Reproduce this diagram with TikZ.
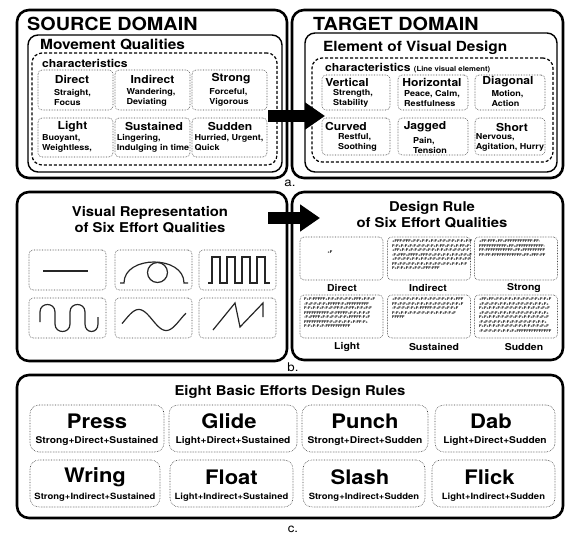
\documentclass[tikz,border=0pt]{standalone}
\usepackage{fontspec}
\setmainfont[FakeStretch=1.1]{TeX Gyre Heros}
\usepackage{tikz}
\usetikzlibrary{arrows.meta,positioning,calc}

\tikzset{
	outerbox/.style={draw, line width=2.6pt, rounded corners=12pt, inner sep=0pt},
	innerbox/.style={draw, line width=1.4pt, rounded corners=10pt, inner sep=0pt},
	charbox/.style={draw, line width=1.2pt, dash pattern=on 3pt off 2pt, rounded corners=10pt, inner sep=0pt},
	qualbox/.style={draw=black!75, line width=0.6pt, densely dotted, rounded corners=4pt, inner sep=0pt},
	effbox/.style={draw=black!75, line width=0.6pt, densely dotted, rounded corners=9pt, inner sep=0pt},
	domtitle/.style={font=\bfseries\fontsize{18}{20}\selectfont, inner sep=0pt, anchor=base west},
	subtitle/.style={font=\bfseries\fontsize{14}{16}\selectfont, inner sep=0pt, anchor=base west},
	chartitle/.style={font=\bfseries\fontsize{11}{13}\selectfont, inner sep=0pt, anchor=base west},
	bigtitle/.style={font=\bfseries\fontsize{13.5}{16}\selectfont, inner sep=0pt, align=center},
	qhead/.style={font=\bfseries\fontsize{11}{12}\selectfont, inner sep=0pt},
	qsub/.style={font=\bfseries\fontsize{8.2}{10}\selectfont, inner sep=0pt, align=left},
	rlabel/.style={font=\bfseries\fontsize{9.5}{11}\selectfont, inner sep=0pt},
	ftext/.style={font=\bfseries\fontsize{3.7}{4.5}\selectfont, inner sep=0pt, align=left, anchor=north west},
	ename/.style={font=\bfseries\fontsize{20}{22}\selectfont, inner sep=0pt},
	esub/.style={font=\bfseries\fontsize{9.3}{11}\selectfont, inner sep=0pt},
	esubb/.style={font=\bfseries\fontsize{8.6}{10}\selectfont, inner sep=0pt},
	partlabel/.style={font=\fontsize{12}{14}\selectfont, inner sep=0pt},
	bigarrow/.style={line width=12pt, -{Triangle[width=26pt,length=20pt]}},
	wave/.style={line width=1.2pt, black!85},
}

\begin{document}
\begin{tikzpicture}[x=1pt,y=-1pt]
	\useasboundingbox (0,0) rectangle (565,535);

	% a. source domain
	\node[outerbox, minimum width=270, minimum height=168] (src) at (152,94) {};
	\node[domtitle] (srcT) at (27,31) {SOURCE DOMAIN};
	\node[innerbox, minimum width=254, minimum height=137] (move) at (155,103.5) {};
	\node[subtitle] (moveT) at (40,50) {Movement Qualities};
	\node[charbox, minimum width=245, minimum height=112] (srcchar) at (154.5,109) {};
	\node[chartitle] (srccharT) at (42,67.5) {characteristics};

	\node[qualbox, minimum width=75, minimum height=40] (sdirect) at (75.5,90) {};
	\node[qualbox, minimum width=75, minimum height=40] (sindirect) at (152.5,90) {};
	\node[qualbox, minimum width=75, minimum height=40] (sstrong) at (229.5,90) {};
	\node[qualbox, minimum width=75, minimum height=39] (slight) at (75.5,137.5) {};
	\node[qualbox, minimum width=75, minimum height=39] (ssustained) at (152.5,137.5) {};
	\node[qualbox, minimum width=75, minimum height=39] (ssudden) at (229.5,137.5) {};

	\node[qhead] (sdirectH) at (72,79) {Direct};
	\node[qsub] (sdirectS) at (72.5,97.5) {Straight,\\Focus};
	\node[qhead] (sindirectH) at (152.5,79) {Indirect};
	\node[qsub] (sindirectS) at (151,97.5) {Wandering,\\Deviating};
	\node[qhead] (sstrongH) at (231,79) {Strong};
	\node[qsub] (sstrongS) at (229,97.5) {Forceful,\\Vigorous};
	\node[qhead] (slightH) at (72.5,127) {Light};
	\node[qsub] (slightS) at (67,143) {Buoyant,\\Weightless,};
	\node[qhead] (ssustainedH) at (154,126) {Sustained};
	\node[qsub] (ssustainedS) at (153,143) {Lingering,\\Indulging in time};
	\node[qhead] (ssuddenH) at (230,126) {Sudden};
	\node[qsub] (ssuddenS) at (229,143) {Hurried, Urgent,\\Quick};

	% a. target domain
	\node[outerbox, minimum width=271, minimum height=168] (tgt) at (427.5,94) {};
	\node[domtitle] (tgtT) at (313,30.5) {TARGET DOMAIN};
	\node[innerbox, minimum width=252, minimum height=139] (elem) at (431,102.5) {};
	\node[subtitle] (elemT) at (323,52) {Element of Visual Design};
	\node[charbox, minimum width=241, minimum height=104] (tgtchar) at (432.5,110) {};
	\node[chartitle] (tgtcharT) at (325,71) {characteristics {\fontsize{7}{8}\selectfont (Line visual element)}};

	\node[qualbox, minimum width=68, minimum height=35] (tvertical) at (356,92.5) {};
	\node[qualbox, minimum width=70, minimum height=35] (thorizontal) at (433,92.5) {};
	\node[qualbox, minimum width=70, minimum height=35] (tdiagonal) at (510,92.5) {};
	\node[qualbox, minimum width=68, minimum height=37] (tcurved) at (356,136.5) {};
	\node[qualbox, minimum width=70, minimum height=37] (tjagged) at (433,136.5) {};
	\node[qualbox, minimum width=70, minimum height=37] (tshort) at (510,136.5) {};

	\node[qhead] (tverticalH) at (347,82) {Vertical};
	\node[qsub] (tverticalS) at (353,98) {Strength,\\Stability};
	\node[qhead] (thorizontalH) at (432,82) {Horizontal};
	\node[qsub] (thorizontalS) at (432,98) {Peace, Calm,\\Restfulness};
	\node[qhead] (tdiagonalH) at (508,82) {Diagonal};
	\node[qsub] (tdiagonalS) at (507.5,98.5) {Motion,\\Action};
	\node[qhead] (tcurvedH) at (346,126) {Curved};
	\node[qsub] (tcurvedS) at (357.5,142) {Restful,\\Soothing};
	\node[qhead] (tjaggedH) at (425,127) {Jagged};
	\node[qsub] (tjaggedS) at (430,145) {Pain,\\Tension};
	\node[qhead] (tshortH) at (512,127) {Short};
	\node[qsub] (tshortS) at (510,142.5) {Nervous,\\Agitation, Hurry};

	\coordinate (aStart) at (268,116);
	\coordinate (aEnd) at (325,116);
	\draw[bigarrow] (aStart) -- (aEnd);
	\node[partlabel] (alabel) at (290,183) {a.};

	% b. visual representation
	\node[outerbox, minimum width=270, minimum height=169] (rep) at (152,276.5) {};
	\node[bigtitle] (repT) at (150,220) {Visual Representation\\of Six Effort Qualities};

	\node[qualbox, minimum width=77, minimum height=40] (vdirect) at (67.5,270) {};
	\node[qualbox, minimum width=77, minimum height=40] (vindirect) at (153.5,270) {};
	\node[qualbox, minimum width=77, minimum height=40] (vstrong) at (237.5,270) {};
	\node[qualbox, minimum width=77, minimum height=40] (vlight) at (67.5,318) {};
	\node[qualbox, minimum width=77, minimum height=40] (vsustained) at (153.5,318) {};
	\node[qualbox, minimum width=77, minimum height=40] (vsudden) at (237.5,318) {};

	\draw[wave] (43,271) -- (88,271);
	\draw[wave] (120,283) -- (124,283) .. controls (124,255) and (184,255) .. (184,283) -- (188,283);
	\draw[wave] (157.5,272.5) circle (10);
	\draw[wave] (208,283) -- (212,283) -- (212,257) -- (220,257) -- (220,283) -- (227,283) -- (227,257) -- (235,257) -- (235,283)
		-- (242,283) -- (242,257) -- (250,257) -- (250,283) -- (257,283) -- (257,257) -- (265,257) -- (265,283) -- (270,283);
	\draw[wave] (40,322) -- (40,312) .. controls (40,302) and (55,302) .. (55,312) -- (55,324) .. controls (55,334) and (70,334) .. (70,324)
		-- (70,312) .. controls (70,302) and (85,302) .. (85,312) -- (85,324) .. controls (85,334) and (98,334) .. (98,324) -- (98,317);
	\draw[wave] plot[domain=-20:400, samples=60, smooth] ({122+(\x+20)/420*64}, {320-10.5*sin(\x)});
	\draw[wave] (213,330) -- (235,303) -- (240,327) -- (263,303) -- (263,317);

	% b. design rule
	\node[outerbox, minimum width=271, minimum height=168] (rule) at (427.5,276) {};
	\node[bigtitle] (ruleT) at (432,215) {Design Rule\\of Six Effort Qualities};

	\node[qualbox, minimum width=83, minimum height=43] (rdirect) at (341.5,258.5) {};
	\node[qualbox, minimum width=83, minimum height=43] (rindirect) at (429,258.5) {};
	\node[qualbox, minimum width=83, minimum height=43] (rstrong) at (516,258.5) {};
	\node[qualbox, minimum width=83, minimum height=43] (rlight) at (341.5,316.5) {};
	\node[qualbox, minimum width=83, minimum height=43] (rsustained) at (429,316.5) {};
	\node[qualbox, minimum width=83, minimum height=43] (rsudden) at (516,316.5) {};

	\node[ftext, anchor=center] (rdirectF) at (330,252) {+F};
	\node[ftext] (rindirectF) at (392,240) {+FFF-FFF+F-F+F-F+F-F+F-F+F-F+F-F+F-F\\F-F+F-F+F-F+F-F+F-F+F-FF+F-F+F-FF+F\\+FF+F-F+F-F+F-F+F-F+F-F+F-F+F-F+F-F\\-F+FFF+FFFF+FFF-F+F-F+F-F+F-F+F-F+F\\+F-F+F-F+F-F+F-F+F-F+F-F+F-F+F-F+F-F\\FF+F-F+F-F+F-F+F-F+F-F+F-F+F-F+F-F\\F+F-F+F-F+F-F+FFF-FFF};
	\node[ftext] (rstrongF) at (479,240) {+FF-FFF+FF+FFFFFFFFFFF-FF-\\FFFFFFFFFFF+FF+FFFFFFFFFFF-\\FF-FFFFFFFFFFF+FF+FFFFFFFFF\\FF-FF-FFFFFFFFFFFF+FF+FFF-FF};
	\node[ftext] (rlightF) at (304,298) {F+F-FFFFF+F-F+F-F+F-F+FFF+F-F+F\\-F+F-F+F-F+FFFFF-F+FFFFFFFFF\\F-F+F-F+F-F+F-FF-F+F-FF+F-F+F-F\\FFFFFFFFFF+F-FFFFF+F-F+F-F+F\\-F+FFFF+F-F+F-F+F-F+FFFFF-F+F\\FFFFFFFFFF-F+F-F+F-F+F-FF-F+\\F-F+F-F+F-FFFFFFFFFF};
	\node[ftext] (rsustainedF) at (392,298) {+F-F+F-F+F-F+F-F+F-F+F-F+F-F+FFF\\FF+F-F+F-F+F-F+F-F+F-F+F-F+F-F+F\\-F+F-F+F-F+F-FFFFF-F+F-F+F-F+F\\F-F+F-F+F-F+F-F+F-F+F-F+F-F+F\\FFFFF};
	\node[ftext] (rsuddenF) at (479,298) {+FF+FF+F-F+F-F+F-F+F-F+F-F+F-F+F\\+F+F+F-F+F-F+F-F+F-F+F-F+F-F+F+\\F+F+F-F+F-F+F-F+F-F+F-F+F+F+F+F\\+F+F+F-F+F-F+F-F+F-F+F-F+F-F+F+\\F+F+F-F+F-F+F-F+F-F+F-F+F-F+F+F\\-F+F-F+F-F+F-F+F-F+F-F+F-F+F-F+\\F+F+F-F+F-F+F-F+F-F+F-F+F-F+F+F\\-F+F-F+F-F+F-F+F+FFFFFFFFFFFFFF};

	\node[rlabel] (rdirectL) at (342,288) {Direct};
	\node[rlabel] (rindirectL) at (428,288) {Indirect};
	\node[rlabel] (rstrongL) at (524,288) {Strong};
	\node[rlabel] (rlightL) at (347,347) {Light};
	\node[rlabel] (rsustainedL) at (434,347) {Sustained};
	\node[rlabel] (rsuddenL) at (524,347) {Sudden};

	\coordinate (bStart) at (268,218);
	\coordinate (bEnd) at (320,218);
	\draw[bigarrow] (bStart) -- (bEnd);
	\node[partlabel] (blabel) at (293,367) {b.};

	% c. eight basic efforts
	\node[outerbox, minimum width=546, minimum height=143] (eight) at (290,446.5) {};
	\node[bigtitle] (eightT) at (290,392) {Eight Basic Efforts Design Rules};

	\node[effbox, minimum width=134, minimum height=47] (press) at (97,428.5) {};
	\node[effbox, minimum width=128, minimum height=47] (glide) at (233,428.5) {};
	\node[effbox, minimum width=126, minimum height=47] (punch) at (365,428.5) {};
	\node[effbox, minimum width=120, minimum height=47] (dab) at (495,428.5) {};
	\node[effbox, minimum width=130, minimum height=47] (wring) at (95,483.5) {};
	\node[effbox, minimum width=123, minimum height=47] (float) at (231.5,483.5) {};
	\node[effbox, minimum width=122, minimum height=47] (slash) at (364,483.5) {};
	\node[effbox, minimum width=123, minimum height=47] (flick) at (493.5,483.5) {};

	\node[ename] (pressN) at ($(press)+(0,-7)$) {Press};
	\node[esub] (pressS) at ($(press)+(0,12.5)$) {Strong+Direct+Sustained};
	\node[ename] (glideN) at ($(glide)+(-4,-7)$) {Glide};
	\node[esub] (glideS) at ($(glide)+(0,12.5)$) {Light+Direct+Sustained};
	\node[ename] (punchN) at ($(punch)+(0,-7)$) {Punch};
	\node[esub] (punchS) at ($(punch)+(0,12.5)$) {Strongt+Direct+Sudden};
	\node[ename] (dabN) at ($(dab)+(-4,-7)$) {Dab};
	\node[esub] (dabS) at ($(dab)+(0,12.5)$) {Light+Direct+Sudden};
	\node[ename] (wringN) at ($(wring)+(0,-6)$) {Wring};
	\node[esubb] (wringS) at ($(wring)+(0,14)$) {Strong+Indirect+Sustained};
	\node[ename] (floatN) at ($(float)+(0,-6)$) {Float};
	\node[esubb] (floatS) at ($(float)+(0,14)$) {Light+Indirect+Sustained};
	\node[ename] (slashN) at ($(slash)+(-4,-6)$) {Slash};
	\node[esubb] (slashS) at ($(slash)+(0,14)$) {Strong+Indirect+Sudden};
	\node[ename] (flickN) at ($(flick)+(-4,-6)$) {Flick};
	\node[esubb] (flickS) at ($(flick)+(0,14)$) {Light+Indirect+Sudden};

	\node[partlabel] (clabel) at (293,529) {c.};
\end{tikzpicture}
\end{document}
